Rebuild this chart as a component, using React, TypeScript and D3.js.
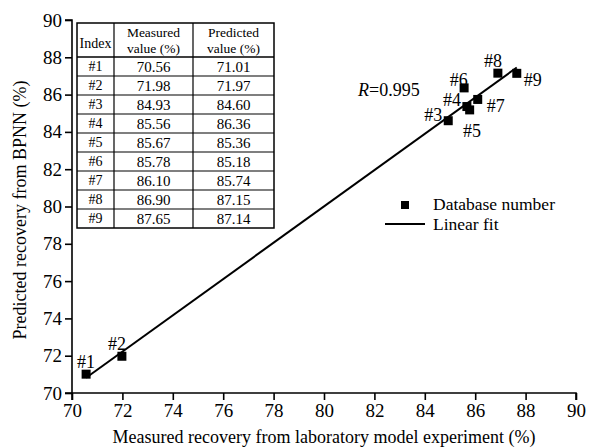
import { axisBottom, axisLeft, line, scaleLinear, select } from 'd3';
import { useEffect, useRef } from 'react';

const indexLabels = ['#1', '#2', '#3', '#4', '#5', '#6', '#7', '#8', '#9'];
const measured = [70.56, 71.98, 84.93, 85.56, 85.67, 85.78, 86.1, 86.9, 87.65];
const predicted = [71.01, 71.97, 84.6, 86.36, 85.36, 85.18, 85.74, 87.15, 87.14];
const axisTicks = [70, 72, 74, 76, 78, 80, 82, 84, 86, 88, 90];
const rValue = '0.995';

// label nudges around each square (px)
const labelOffsets = [
  [0, -12], [-5, -13], [-15, -6], [-12, 12], [5, 24],
  [-11, -30], [18, 6], [-5, -12], [16, 6],
];

const W = 589;
const H = 447;
const FONT = '"Liberation Serif", "Times New Roman", serif';

function App() {
  const svgRef = useRef<SVGSVGElement>(null);

  useEffect(() => {
    const svg = select(svgRef.current);
    svg.selectAll('*').remove();

    const x = scaleLinear().domain([70, 90]).range([72, 576]);
    const y = scaleLinear().domain([70, 90]).range([393, 20]);

    // axes
    const xAxis = axisBottom(x).tickValues(axisTicks).tickSize(7).tickPadding(4).tickFormat(d => String(d));
    const yAxis = axisLeft(y).tickValues(axisTicks).tickSize(7).tickPadding(3).tickFormat(d => String(d));
    const gx = svg.append('g').attr('transform', 'translate(0,393)').call(xAxis);
    const gy = svg.append('g').attr('transform', 'translate(72,0)').call(yAxis);
    [gx, gy].forEach(g => {
      g.select('.domain').attr('stroke', '#000').attr('stroke-width', 1.6);
      g.selectAll('.tick line').attr('stroke', '#000').attr('stroke-width', 1.6);
      g.selectAll('.tick text')
        .attr('fill', '#000')
        .style('font-family', FONT)
        .style('font-size', '19px');
    });
    // extend outer ticks like the original crossing at origin
    gy.select('.domain').attr('d', 'M-7,20H0V400');
    gx.select('.domain').attr('d', 'M65,0H576V7');

    // axis titles
    svg
      .append('text')
      .attr('x', 324)
      .attr('y', 443)
      .attr('text-anchor', 'middle')
      .style('font-family', FONT)
      .style('font-size', '18px')
      .text('Measured recovery from laboratory model experiment (%)');
    svg
      .append('text')
      .attr('transform', 'translate(26,210) rotate(-90)')
      .attr('text-anchor', 'middle')
      .style('font-family', FONT)
      .style('font-size', '18px')
      .text('Predicted recovery from BPNN (%)');

    // linear fit (least squares)
    const n = measured.length;
    const mx = measured.reduce((a, b) => a + b, 0) / n;
    const my = predicted.reduce((a, b) => a + b, 0) / n;
    let sxy = 0;
    let sxx = 0;
    measured.forEach((v, i) => {
      sxy += (v - mx) * (predicted[i] - my);
      sxx += (v - mx) * (v - mx);
    });
    const slope = sxy / sxx;
    const icpt = my - slope * mx;
    const xMin = Math.min(...measured);
    const xMax = Math.max(...measured);
    const fitLine = line<number>()
      .x(d => x(d))
      .y(d => y(slope * d + icpt));
    svg
      .append('path')
      .datum([xMin, xMax])
      .attr('d', fitLine)
      .attr('fill', 'none')
      .attr('stroke', '#000')
      .attr('stroke-width', 2);

    // points
    svg
      .selectAll('.pt')
      .data(measured)
      .join('rect')
      .attr('class', 'pt')
      .attr('x', d => x(d) - 4.5)
      .attr('y', (d, i) => y(predicted[i]) - 4.5)
      .attr('width', 9)
      .attr('height', 9)
      .attr('fill', '#000');

    svg
      .selectAll('.ptlabel')
      .data(measured)
      .join('text')
      .attr('class', 'ptlabel')
      .attr('x', (d, i) => x(d) + labelOffsets[i][0])
      .attr('y', (d, i) => y(predicted[i]) + labelOffsets[i][1])
      .attr('dy', '0.35em')
      .attr('text-anchor', 'middle')
      .style('font-family', FONT)
      .style('font-size', '18px')
      .text((d, i) => indexLabels[i]);

    // R annotation
    const rText = svg
      .append('text')
      .attr('x', 358)
      .attr('y', 96)
      .style('font-family', FONT)
      .style('font-size', '18px');
    rText.append('tspan').style('font-style', 'italic').text('R');
    rText.append('tspan').text('=' + rValue);

    // legend
    svg.append('rect').attr('x', 401).attr('y', 201).attr('width', 8).attr('height', 8).attr('fill', '#000');
    svg
      .append('text')
      .attr('x', 433)
      .attr('y', 210)
      .style('font-family', FONT)
      .style('font-size', '17.5px')
      .text('Database number');
    svg
      .append('line')
      .attr('x1', 385)
      .attr('x2', 425)
      .attr('y1', 224)
      .attr('y2', 224)
      .attr('stroke', '#000')
      .attr('stroke-width', 2);
    svg
      .append('text')
      .attr('x', 433)
      .attr('y', 230)
      .style('font-family', FONT)
      .style('font-size', '17.5px')
      .text('Linear fit');

    // data table
    const tx = 77;
    const ty = 23;
    const colW = [37, 79, 81];
    const headH = 34;
    const rowH = 19;
    const tW = colW[0] + colW[1] + colW[2];
    const tH = headH + rowH * n;
    const table = svg.append('g');
    table
      .append('rect')
      .attr('x', tx)
      .attr('y', ty)
      .attr('width', tW)
      .attr('height', tH)
      .attr('fill', '#fff')
      .attr('stroke', '#000')
      .attr('stroke-width', 1.5);
    const colX = [tx, tx + colW[0], tx + colW[0] + colW[1], tx + tW];
    [colX[1], colX[2]].forEach(cx =>
      table.append('line').attr('x1', cx).attr('x2', cx).attr('y1', ty).attr('y2', ty + tH)
        .attr('stroke', '#000').attr('stroke-width', 1.2)
    );
    for (let i = 0; i < n; i++) {
      const ly = ty + headH + i * rowH;
      table.append('line').attr('x1', tx).attr('x2', tx + tW).attr('y1', ly).attr('y2', ly)
        .attr('stroke', '#000').attr('stroke-width', i === 0 ? 1.5 : 1.2);
    }
    const colMid = [0, 1, 2].map(c => (colX[c] + colX[c + 1]) / 2);
    const cellText = (g, cx, cy, s, size = 14) =>
      g.append('text')
        .attr('x', cx)
        .attr('y', cy)
        .attr('dy', '0.35em')
        .attr('text-anchor', 'middle')
        .style('font-family', FONT)
        .style('font-size', size + 'px')
        .text(s);
    cellText(table, colMid[0], ty + 20, 'Index');
    cellText(table, colMid[1], ty + 9, 'Measured', 13.5);
    cellText(table, colMid[1], ty + 25, 'value (%)', 13.5);
    cellText(table, colMid[2], ty + 9, 'Predicted', 13.5);
    cellText(table, colMid[2], ty + 25, 'value (%)', 13.5);
    for (let i = 0; i < n; i++) {
      const cy = ty + headH + i * rowH + rowH / 2;
      cellText(table, colMid[0], cy, indexLabels[i]);
      cellText(table, colMid[1], cy, measured[i].toFixed(2), 15);
      cellText(table, colMid[2], cy, predicted[i].toFixed(2), 15);
    }
  }, []);

  return (
    <svg
      ref={svgRef}
      width={W}
      height={H}
      style={{ position: 'absolute', left: 0, top: 0, background: '#fff' }}
    />
  );
}

export default App;
